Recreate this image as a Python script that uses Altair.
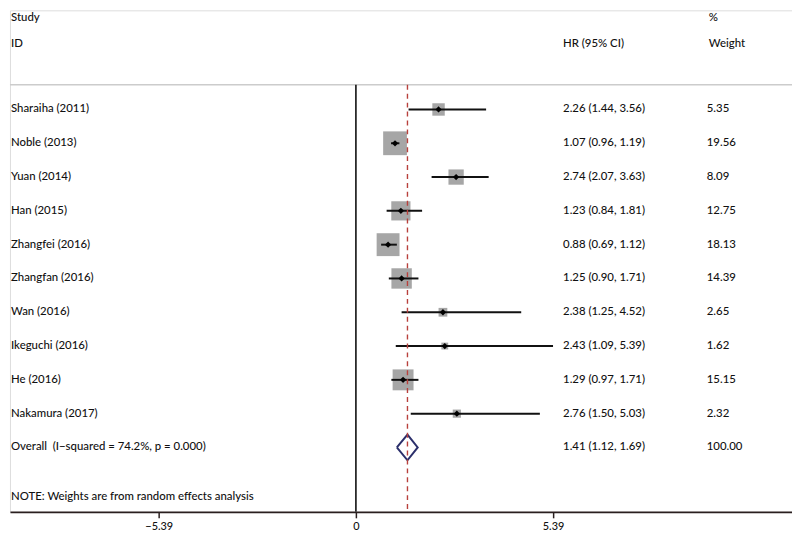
import altair as alt
import pandas as pd

# ---- data ----
studies = ["Sharaiha (2011)", "Noble (2013)", "Yuan (2014)", "Han (2015)", "Zhangfei (2016)",
           "Zhangfan (2016)", "Wan (2016)", "Ikeguchi (2016)", "He (2016)", "Nakamura (2017)"]
hr = [2.26, 1.07, 2.74, 1.23, 0.88, 1.25, 2.38, 2.43, 1.29, 2.76]
lo = [1.44, 0.96, 2.07, 0.84, 0.69, 0.90, 1.25, 1.09, 0.97, 1.50]
hi = [3.56, 1.19, 3.63, 1.81, 1.12, 1.71, 4.52, 5.39, 1.71, 5.03]
weight = [5.35, 19.56, 8.09, 12.75, 18.13, 14.39, 2.65, 1.62, 15.15, 2.32]

overall_label = "Overall\u2002(I\u2212squared = 74.2%, p = 0.000)"
overall_hr = 1.41
overall_lo = 1.12
overall_hi = 1.69
overall_weight = 100.00

note = "NOTE: Weights are from random effects analysis"
tick_values = [-5.39, 0, 5.39]

# ---- tables ----
n = len(studies)
df = pd.DataFrame({
    "row": list(range(n)),
    "study": studies,
    "hr": hr, "lo": lo, "hi": hi, "weight": weight,
    "hrtext": [f"{h:.2f} ({l:.2f}, {u:.2f})" for h, l, u in zip(hr, lo, hi)],
    "wtext": [f"{w:.2f}" for w in weight],
})
ov_row = n
df_ov = pd.DataFrame({
    "row": [ov_row], "study": [overall_label],
    "hrtext": [f"{overall_hr:.2f} ({overall_lo:.2f}, {overall_hi:.2f})"],
    "wtext": [f"{overall_weight:.2f}"],
})
labels_all = pd.concat([df[["row", "study", "hrtext", "wtext"]], df_ov], ignore_index=True)

half = 0.38
diamond = pd.DataFrame({
    "x": [overall_lo, overall_hr, overall_hi, overall_hr, overall_lo],
    "row": [ov_row, ov_row - half, ov_row, ov_row + half, ov_row],
    "o": [0, 1, 2, 3, 4],
})

header = pd.DataFrame({
    "row": [-2.72, -1.95, -1.95, -2.72, -1.95],
    "text": ["Study", "ID", "HR (95% CI)", "%", "Weight"],
    "col": [1, 1, 558, 705, 705],
})

FONT = "Lato"
TXT = "#111111"
W, H = 789, 506
xscale = alt.Scale(domain=[-9.458, 11.924], nice=False, zero=False)
yscale = alt.Scale(domain=[-2.933, 11.906], reverse=True, nice=False, zero=False)
Y = alt.Y("row:Q", scale=yscale, axis=None)

base = alt.Chart(df)

sep = alt.Chart(pd.DataFrame({"row": [-0.73]})).mark_rule(color="#cccccc", strokeWidth=1.5).encode(
    x=alt.value(0), x2=alt.value(W), y=Y)

zero_line = alt.Chart(pd.DataFrame({"x": [0], "r1": [-0.73], "r2": [11.906]})).mark_rule(
    color="#2a2a2a", strokeWidth=1.8).encode(
    x=alt.X("x:Q", scale=xscale,
            axis=alt.Axis(values=tick_values, title=None, grid=False,
                          labelExpr="datum.value == 0 ? '0' : replace(format(datum.value, '.2f'), '-', '\u2212')",
                          domainColor="#2a1f1f", domainWidth=1.8, tickColor="#2a1f1f", tickWidth=1.5,
                          tickSize=6, labelPadding=3, labelFont=FONT, labelFontSize=11,
                          labelColor=TXT, labelFontWeight=500)),
    y=alt.Y("r1:Q", scale=yscale, axis=None), y2="r2:Q")

squares = base.mark_square(color="#a6a6a6", opacity=1).encode(
    x=alt.X("hr:Q", scale=xscale),
    y=Y,
    size=alt.Size("weight:Q", scale=alt.Scale(domain=[0, 20], range=[0, 588]), legend=None))

ci = base.mark_rule(color="#111111", strokeWidth=2).encode(
    x=alt.X("lo:Q", scale=xscale), x2="hi:Q", y=Y)

pts = base.mark_point(shape="diamond", filled=True, color="#000000", size=40, opacity=1).encode(
    x=alt.X("hr:Q", scale=xscale), y=Y)

dia = alt.Chart(diamond).mark_line(color="#2b2f6b", strokeWidth=2).encode(
    x=alt.X("x:Q", scale=xscale), y=Y, order="o:Q")

dash = alt.Chart(pd.DataFrame({"x": [overall_hr], "r1": [-0.73], "r2": [11.906]})).mark_rule(
    color="#b8403c", strokeWidth=1.4, strokeDash=[5, 4]).encode(
    x=alt.X("x:Q", scale=xscale), y=alt.Y("r1:Q", scale=yscale, axis=None), y2="r2:Q")

tstyle = dict(align="left", baseline="middle", font=FONT, fontSize=11.5, color=TXT, fontWeight=500)

study_txt = alt.Chart(labels_all).mark_text(**tstyle).encode(x=alt.value(1), y=Y, text="study:N")
hr_txt = alt.Chart(labels_all).mark_text(**tstyle).encode(x=alt.value(558), y=Y, text="hrtext:N")
w_txt = alt.Chart(labels_all).mark_text(**tstyle).encode(x=alt.value(703), y=Y, text="wtext:N")
head_txt = alt.Chart(header).mark_text(**tstyle).encode(
    x=alt.X("col:Q", scale=None), y=Y, text="text:N")
note_txt = alt.Chart(pd.DataFrame({"row": [11.47], "t": [note]})).mark_text(**tstyle).encode(
    x=alt.value(1), y=Y, text="t:N")

chart = alt.layer(
    sep, zero_line, squares, ci, pts, dia, dash,
    study_txt, hr_txt, w_txt, head_txt, note_txt
).properties(
    width=W, height=H,
    autosize=alt.AutoSizeParams(type="none"),
    padding={"left": 2, "top": 0, "right": 0, "bottom": 24},
).configure_view(stroke=None).configure(background="white")

chart.save("out.html", embed_options={"renderer": "svg", "actions": False})
